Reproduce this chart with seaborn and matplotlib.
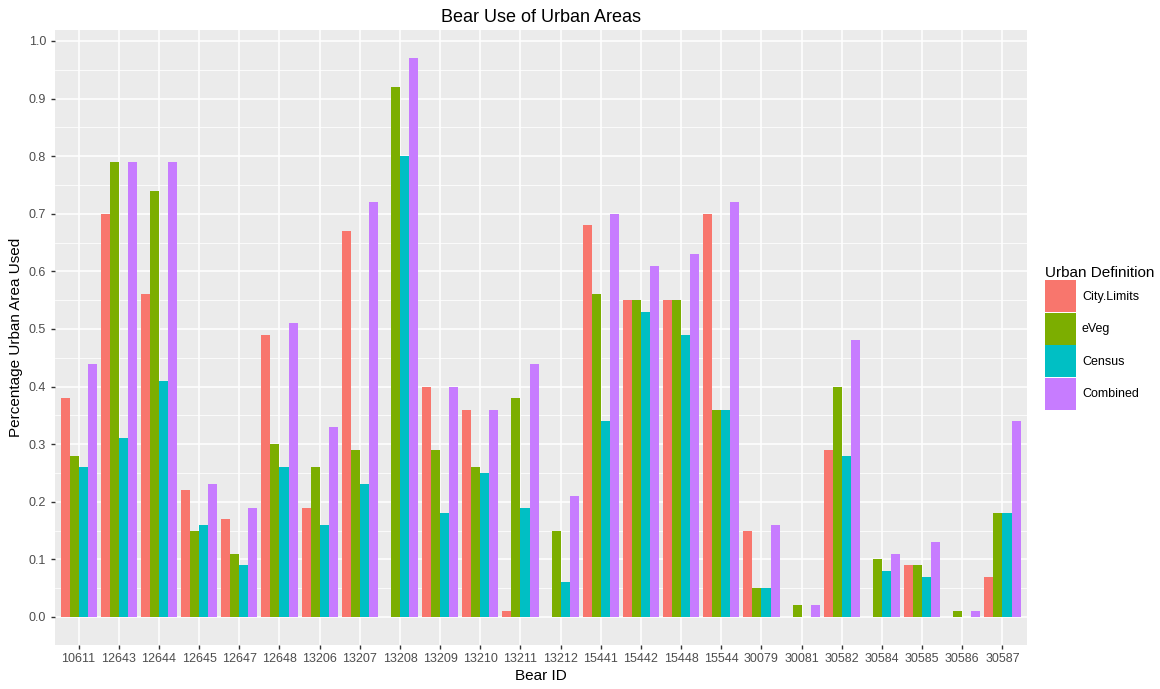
import pandas as pd
import matplotlib.pyplot as plt
import matplotlib.ticker as mticker
from matplotlib.patches import Patch
import seaborn as sns

# Bear IDs en waarden per definitie
bear_ids = ['10611', '12643', '12644', '12645', '12647', '12648', '13206', '13207',
            '13208', '13209', '13210', '13211', '13212', '15441', '15442', '15448',
            '15544', '30079', '30081', '30582', '30584', '30585', '30586', '30587']
city_limits = [0.38, 0.70, 0.56, 0.22, 0.17, 0.49, 0.19, 0.67, 0.00, 0.40, 0.36, 0.01,
               0.00, 0.68, 0.55, 0.55, 0.70, 0.15, 0.00, 0.29, 0.00, 0.09, 0.00, 0.07]
eveg = [0.28, 0.79, 0.74, 0.15, 0.11, 0.30, 0.26, 0.29, 0.92, 0.29, 0.26, 0.38,
        0.15, 0.56, 0.55, 0.55, 0.36, 0.05, 0.02, 0.40, 0.10, 0.09, 0.01, 0.18]
census = [0.26, 0.31, 0.41, 0.16, 0.09, 0.26, 0.16, 0.23, 0.80, 0.18, 0.25, 0.19,
          0.06, 0.34, 0.53, 0.49, 0.36, 0.05, 0.00, 0.28, 0.08, 0.07, 0.00, 0.18]
combined = [0.44, 0.79, 0.79, 0.23, 0.19, 0.51, 0.33, 0.72, 0.97, 0.40, 0.36, 0.44,
            0.21, 0.70, 0.61, 0.63, 0.72, 0.16, 0.02, 0.48, 0.11, 0.13, 0.01, 0.34]

definitions = ['City.Limits', 'eVeg', 'Census', 'Combined']
colors = ['#F8766D', '#7CAE00', '#00BFC4', '#C77CFF']

df = pd.DataFrame({'bear': bear_ids, 'City.Limits': city_limits, 'eVeg': eveg,
                   'Census': census, 'Combined': combined})
df_long = df.melt(id_vars='bear', var_name='definition', value_name='pct')

plt.rcParams['font.family'] = ['Liberation Sans', 'DejaVu Sans']

fig = plt.figure(figsize=(11.6, 6.89), dpi=100)
ax = fig.add_axes([0.047, 0.064, 0.838, 0.892])
ax.set_facecolor('#EBEBEB')

sns.barplot(data=df_long, x='bear', y='pct', hue='definition',
            hue_order=definitions, palette=colors, saturation=1, width=0.9, gap=0,
            errorbar=None, linewidth=0, ax=ax, legend=False)

ax.set_xlim(-0.6, len(bear_ids) - 0.4)
ax.set_ylim(-0.0485, 1.0185)
ax.yaxis.set_major_locator(mticker.MultipleLocator(0.1))
ax.yaxis.set_minor_locator(mticker.MultipleLocator(0.05))
ax.yaxis.set_major_formatter(mticker.FormatStrFormatter('%.1f'))

ax.set_axisbelow(True)
ax.grid(which='major', color='white', linewidth=1.1)
ax.grid(which='minor', axis='y', color='white', linewidth=0.55)
for s in ax.spines.values():
    s.set_visible(False)
ax.tick_params(which='major', color='#333333', length=3, width=1,
               labelcolor='#4D4D4D', labelsize=9, pad=3)
ax.tick_params(which='minor', length=0)

ax.set_xlabel('Bear ID', fontsize=11, color='black', labelpad=3)
ax.set_ylabel('Percentage Urban Area Used', fontsize=11, color='black', labelpad=4)
ax.set_title('Bear Use of Urban Areas', fontsize=13, pad=6)

handles = [Patch(facecolor=c, edgecolor='none', label=d) for c, d in zip(colors, definitions)]
leg = ax.legend(handles=handles, title='Urban Definition', loc='center left',
                bbox_to_anchor=(1.01, 0.5), frameon=False, fontsize=9,
                title_fontsize=11, handlelength=2.45, handleheight=3.55,
                labelspacing=0.05, handletextpad=0.5, borderaxespad=0.3)
leg._legend_box.align = 'left'

fig.savefig('out.png', dpi=100)
